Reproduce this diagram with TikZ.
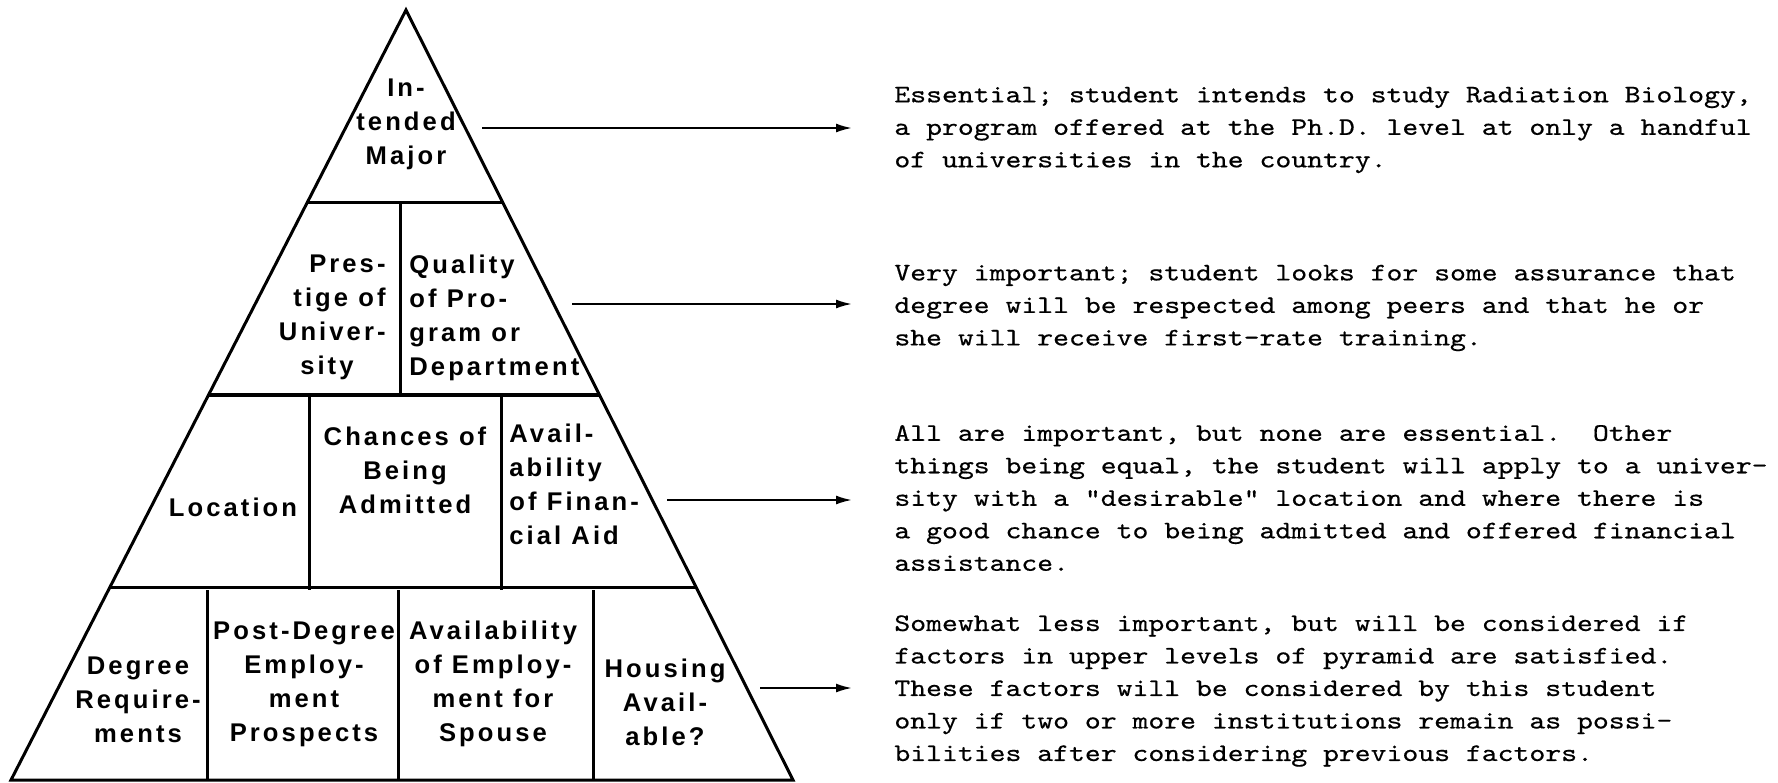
\documentclass[tikz,border=0pt]{standalone}
\usepackage{fontspec}
\setmonofont{lmmono10-regular.otf}[FakeStretch=1.2,FakeBold=0.5]
\newfontfamily\pyrfont[LetterSpace=12]{Liberation Sans}
\usetikzlibrary{calc}
\usetikzlibrary{arrows.meta}

\tikzset{
  factor/.style={font=\pyrfont\bfseries\fontsize{12.8}{17}\selectfont, inner sep=0pt},
  remark/.style={font=\ttfamily\fontsize{12.6}{16.25}\selectfont\frenchspacing,
    align=left, anchor=west, inner sep=0pt},
  pointer/.style={line width=1pt, -{Latex[length=8pt,width=4.5pt]}, shorten >=21pt},
  wall/.style={line width=1.5pt}
}

\begin{document}
\begin{tikzpicture}[x=0.5pt,y=-0.5pt]
\useasboundingbox (0,0) rectangle (1778,782);

% pyramid outline
\coordinate (apex) at (406,10);
\coordinate (bl) at (11,780);
\coordinate (br) at (793,780);
\draw [wall, line join=miter] (apex) -- (bl) -- (br) -- cycle;

% levels
\foreach \f in {0.25,0.5,0.75}
  \draw [line width=1.7pt] ($(apex)!\f!(bl)$) -- ($(apex)!\f!(br)$);

% cells
\draw [wall] (400,203) -- (400,397);
\foreach \x in {309,501}
  \draw [wall] (\x,397) -- (\x,590);
\foreach \x in {207,398,593}
  \draw [wall] (\x,590) -- (\x,780);

\node (major) [factor, align=center] at (406,124) {In-\\tended\\Major};

\node (prestige) [factor, align=right, anchor=east] at (386,317)
  {Pres-\\tige of\\Univer-\\sity\hspace*{16pt}};
\node (quality) [factor, align=left, anchor=west] at (409,318)
  {Quality\\of Pro-\\gram or\\Department};

\node (location) [factor] at (233,507) {Location};
\node (chances) [factor, align=center] at (405,470) {Chances of\\Being\\Admitted};
\node (finaid) [factor, align=left, anchor=west] at (509,484)
  {Avail-\\ability\\of Finan-\\cial Aid};

\node (degreq) [factor, align=center] at (138,700) {Degree\\Require-\\ments};
\node (prospects) [factor, align=center] at (304,684)
  {Post-Degree\\Employ-\\ment\\Prospects};
\node (spouse) [factor, align=center] at (493,684)
  {Availability\\of Employ-\\ment for\\Spouse};
\node (housing) [factor, align=center] at (665,702) {Housing\\Avail-\\able?};

% comments on each level
\node (r1) [remark] at (894,130)
  {Essential; student intends to study Radiation Biology,\\
   a program offered at the Ph.D. level at only a handful\\
   of universities in the country.};
\node (r2) [remark] at (894,308)
  {Very important; student looks for some assurance that\\
   degree will be respected among peers and that he or\\
   she will receive first-rate training.};
\node (r3) [remark] at (894,498)
  {All are important, but none are essential.\ \ Other\\
   things being equal, the student will apply to a univer-\\
   sity with a "desirable" location and where there is\\
   a good chance to being admitted and offered financial\\
   assistance.};
\node (r4) [remark] at (894,691)
  {Somewhat less important, but will be considered if\\
   factors in upper levels of pyramid are satisfied.\\
   These factors will be considered by this student\\
   only if two or more institutions remain as possi-\\
   bilities after considering previous factors.};

\coordinate (a1) at (482,128);
\coordinate (a2) at (572,304);
\coordinate (a3) at (667,500);
\coordinate (a4) at (760,688);
\foreach \i in {1,2,3,4}
  \draw [pointer] (a\i) -- (a\i -| r\i.west);
\end{tikzpicture}
\end{document}
